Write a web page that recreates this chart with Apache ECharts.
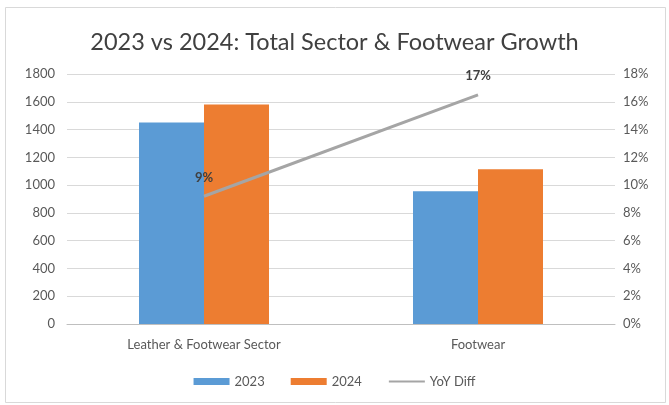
<!DOCTYPE html>
<html>
<head>
<meta charset="utf-8">
<script src="https://cdn.jsdelivr.net/npm/echarts@6/dist/echarts.min.js"></script>
<style>
  html, body { margin: 0; padding: 0; background: #ffffff; }
  #chart { width: 669px; height: 405px; }
</style>
</head>
<body>
<div id="chart"></div>
<script>
// Categories and series values
var categories = ['Leather & Footwear Sector', 'Footwear'];
var values2023 = [1450, 955];
var values2024 = [1580, 1115];
var yoyDiff = [0.092, 0.165];

// Axis tick labels
var leftMax = 1800, leftStep = 200;
var rightMax = 0.18, rightStep = 0.02;

var FONT = 'Lato';
var chart = echarts.init(document.getElementById('chart'), null, { renderer: 'canvas' });

chart.setOption({
  backgroundColor: '#ffffff',
  animation: false,
  textStyle: { fontFamily: FONT },
  title: {
    text: '2023 vs 2024: Total Sector & Footwear Growth',
    left: 'center',
    top: 25,
    textStyle: { fontFamily: FONT, fontSize: 23.5, fontWeight: 'normal', color: '#404040' }
  },
  graphic: [{
    type: 'rect',
    shape: { x: 5.5, y: 7.5, width: 660, height: 395 },
    style: { fill: 'none', stroke: '#d9d9d9', lineWidth: 1 },
    silent: true
  }],
  legend: {
    bottom: 12,
    left: 'center',
    itemGap: 26,
    itemWidth: 36,
    itemHeight: 7,
    textStyle: { fontFamily: FONT, fontSize: 13, color: '#595959' },
    data: [
      { name: '2023', icon: 'rect' },
      { name: '2024', icon: 'rect' },
      { name: 'YoY Diff', itemStyle: { opacity: 0 } }
    ]
  },
  grid: { left: 67, right: 54, top: 74, bottom: 81, containLabel: false },
  xAxis: {
    type: 'category',
    data: categories,
    axisTick: { show: false },
    axisLine: { lineStyle: { color: '#bfbfbf' } },
    axisLabel: { fontFamily: FONT, fontSize: 13, color: '#595959', margin: 14 }
  },
  yAxis: [{
    type: 'value',
    min: 0, max: leftMax, interval: leftStep,
    axisLine: { show: false },
    axisTick: { show: false },
    splitLine: { lineStyle: { color: '#d9d9d9' } },
    axisLabel: {
      fontFamily: FONT, fontSize: 13, color: '#595959', margin: 12,
      formatter: function (v) { return String(v); }
    }
  }, {
    type: 'value',
    min: 0, max: rightMax, interval: rightStep,
    axisLine: { show: false },
    axisTick: { show: false },
    splitLine: { show: false },
    axisLabel: {
      fontFamily: FONT, fontSize: 13, color: '#595959', margin: 8,
      formatter: function (v) { return Math.round(v * 100) + '%'; }
    }
  }],
  series: [{
    name: '2023',
    type: 'bar',
    data: values2023,
    barWidth: 65,
    barGap: '0%',
    itemStyle: { color: '#5b9bd5' }
  }, {
    name: '2024',
    type: 'bar',
    data: values2024,
    barWidth: 65,
    barGap: '0%',
    itemStyle: { color: '#ed7d31' }
  }, {
    name: 'YoY Diff',
    type: 'line',
    yAxisIndex: 1,
    data: yoyDiff,
    symbol: 'circle',
    symbolSize: 0.1,
    showSymbol: true,
    lineStyle: { color: '#a5a5a5', width: 3 },
    itemStyle: { color: '#a5a5a5' },
    label: {
      show: true,
      position: 'top',
      distance: 12,
      fontFamily: FONT,
      fontSize: 13,
      fontWeight: 'bold',
      color: '#404040',
      formatter: function (p) { return Math.round(p.value * 100) + '%'; }
    }
  }]
});
</script>
</body>
</html>
